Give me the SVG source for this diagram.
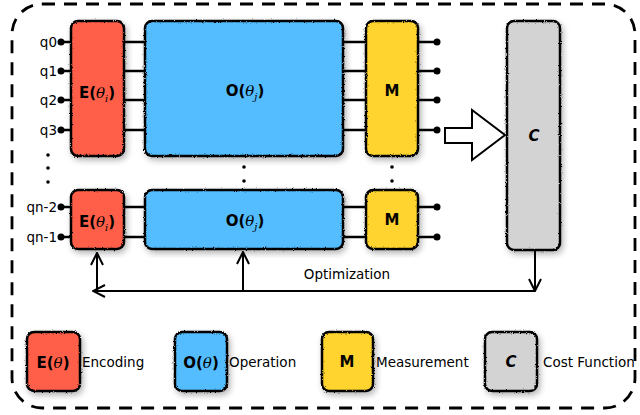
<svg xmlns="http://www.w3.org/2000/svg" width="640" height="415" viewBox="0 0 640 415">
<defs>
<filter id="rough" x="-15%" y="-10%" width="135%" height="125%">
<feTurbulence type="fractalNoise" baseFrequency="0.9" numOctaves="2" seed="3" result="n"/>
<feDisplacementMap in="SourceGraphic" in2="n" scale="2.5" xChannelSelector="R" yChannelSelector="G" result="d"/>
<feGaussianBlur in="SourceAlpha" stdDeviation="3" result="b"/>
<feOffset in="b" dx="2" dy="3" result="o"/>
<feComponentTransfer in="o" result="s"><feFuncA type="linear" slope="0.3"/></feComponentTransfer>
<feMerge><feMergeNode in="s"/><feMergeNode in="d"/></feMerge>
</filter>
<marker id="ah" viewBox="0 0 14 14" refX="13" refY="7" markerWidth="14" markerHeight="14" markerUnits="userSpaceOnUse" orient="auto">
<path d="M1,1 L13,7 L1,13" fill="none" stroke="#000" stroke-width="2"/>
</marker>
</defs>
<style>
.box{stroke:#000;stroke-width:2.5}
.e{fill:#FF5E4A}.o{fill:#52BDFF}.m{fill:#FFD42E}.c{fill:#D3D3D3}
.w{stroke:#000;stroke-width:2.5;fill:none}
.dot{fill:#000}
.t{font-family:"DejaVu Sans",sans-serif;font-size:13.5px;fill:#000}
.lb{font-family:"DejaVu Sans",sans-serif;font-size:15px;font-weight:bold;fill:#000;text-anchor:middle}
.th{font-family:"DejaVu Serif",serif;font-style:italic;font-weight:normal}
.conn{stroke:#000;stroke-width:2;fill:none}
</style>
<rect x="12" y="4" width="623" height="404" rx="30" fill="none" stroke="#000" stroke-width="2.8" stroke-dasharray="13,9"/>

<g id="wires">
<g class="w">
<path d="M61,42H71M61,71H71M61,100H71M61,130H71"/>
<path d="M124,42H145M124,71H145M124,100H145M124,130H145"/>
<path d="M343,42H366M343,71H366M343,100H366M343,130H366"/>
<path d="M418,42H437M418,71H437M418,100H437M418,130H437"/>
<path d="M61,207H71M61,237H71M124,207H145M124,237H145M343,207H366M343,237H366M418,207H437M418,237H437"/>
</g>
<g class="dot">
<circle cx="61" cy="42" r="3.5"/><circle cx="61" cy="71" r="3.5"/><circle cx="61" cy="100" r="3.5"/><circle cx="61" cy="130" r="3.5"/>
<circle cx="61" cy="207" r="3.5"/><circle cx="61" cy="237" r="3.5"/>
<circle cx="437" cy="42" r="3.5"/><circle cx="437" cy="71" r="3.5"/><circle cx="437" cy="100" r="3.5"/><circle cx="437" cy="130" r="3.5"/>
<circle cx="437" cy="207" r="3.5"/><circle cx="437" cy="237" r="3.5"/>
<circle cx="48" cy="155" r="1.8"/><circle cx="48" cy="168" r="1.8"/><circle cx="48" cy="182" r="1.8"/>
<circle cx="244" cy="167" r="1.8"/><circle cx="244" cy="181" r="1.8"/>
<circle cx="392" cy="167" r="1.8"/><circle cx="392" cy="181" r="1.8"/>
</g>
<g class="t" text-anchor="end">
<text x="57" y="47">q0</text><text x="57" y="76">q1</text><text x="57" y="105">q2</text><text x="57" y="135">q3</text>
<text x="57" y="212">qn-2</text><text x="57" y="242">qn-1</text>
</g>
</g>

<g id="enc1"><rect class="box e" x="71" y="21" width="53" height="135" rx="7" filter="url(#rough)"/>
<text class="lb" x="97" y="98">E(<tspan class="th">θ</tspan><tspan class="th" font-size="10" dy="4">i</tspan><tspan dy="-4">)</tspan></text></g>
<g id="op1"><rect class="box o" x="145" y="21" width="198" height="135" rx="7" filter="url(#rough)"/>
<text class="lb" x="245" y="96">O(<tspan class="th">θ</tspan><tspan class="th" font-size="10" dy="4">j</tspan><tspan dy="-4">)</tspan></text></g>
<g id="meas1"><rect class="box m" x="366" y="21" width="52" height="135" rx="7" filter="url(#rough)"/>
<text class="lb" x="392" y="96" font-size="13">M</text></g>
<g id="cost"><rect class="box c" x="507" y="21" width="53" height="229" rx="7" filter="url(#rough)"/>
<text class="lb" x="534" y="141" font-size="13" font-style="italic">C</text></g>
<g id="enc2"><rect class="box e" x="71" y="190" width="53" height="59" rx="7" filter="url(#rough)"/>
<text class="lb" x="97" y="227">E(<tspan class="th">θ</tspan><tspan class="th" font-size="10" dy="4">i</tspan><tspan dy="-4">)</tspan></text></g>
<g id="op2"><rect class="box o" x="145" y="190" width="198" height="59" rx="7" filter="url(#rough)"/>
<text class="lb" x="245" y="226">O(<tspan class="th">θ</tspan><tspan class="th" font-size="10" dy="4">j</tspan><tspan dy="-4">)</tspan></text></g>
<g id="meas2"><rect class="box m" x="366" y="190" width="52" height="59" rx="7" filter="url(#rough)"/>
<text class="lb" x="392" y="225" font-size="13">M</text></g>

<g id="connectors">
<polygon points="445,128 472,128 472,110 505,135 472,160 472,143 445,143" fill="#fff" stroke="#000" stroke-width="2" stroke-linejoin="miter"/>
<path class="conn" d="M535,250V291" marker-end="url(#ah)"/>
<path class="conn" d="M535,291H93" marker-end="url(#ah)"/>
<path class="conn" d="M97,291V253" marker-end="url(#ah)"/>
<path class="conn" d="M243,291V252" marker-end="url(#ah)"/>
<text class="t" x="347" y="279" text-anchor="middle" font-size="14px">Optimization</text>
</g>

<g id="legend">
<g id="leg-e"><rect class="box e" x="27" y="332" width="53" height="59" rx="7" filter="url(#rough)"/>
<text class="lb" x="53" y="368">E(<tspan class="th">θ</tspan>)</text>
<text class="t" x="82" y="367">Encoding</text></g>
<g id="leg-o"><rect class="box o" x="175" y="332" width="52" height="59" rx="7" filter="url(#rough)"/>
<text class="lb" x="201" y="368">O(<tspan class="th">θ</tspan>)</text>
<text class="t" x="229" y="367">Operation</text></g>
<g id="leg-m"><rect class="box m" x="322" y="332" width="51" height="59" rx="7" filter="url(#rough)"/>
<text class="lb" x="347" y="367" font-size="13">M</text>
<text class="t" x="376" y="367">Measurement</text></g>
<g id="leg-c"><rect class="box c" x="485" y="332" width="52" height="59" rx="7" filter="url(#rough)"/>
<text class="lb" x="511" y="367" font-size="13" font-style="italic">C</text>
<text class="t" x="543" y="367">Cost Function</text></g>
</g>
</svg>
